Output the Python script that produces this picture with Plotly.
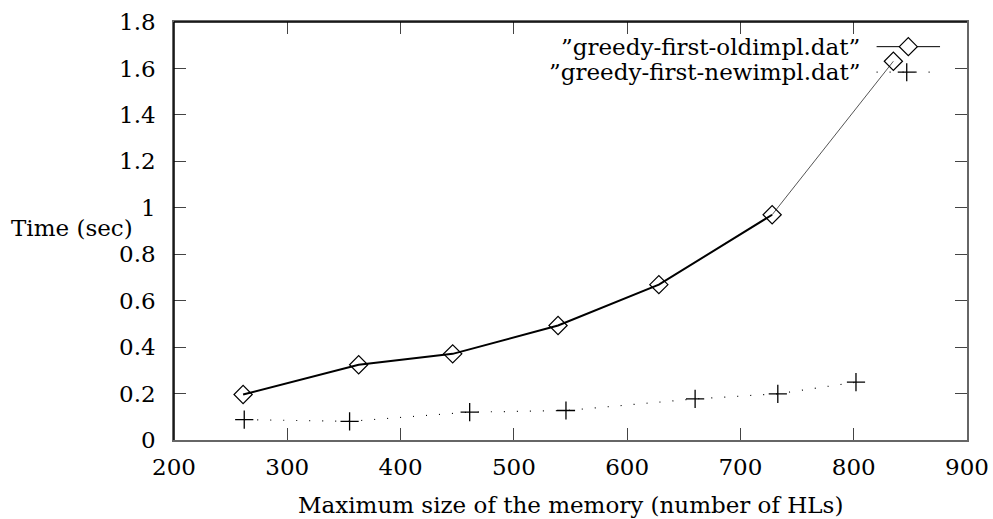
import plotly.graph_objects as go

# Data
x_old = [261, 363, 446, 539, 628, 728, 835]
y_old = [0.196, 0.324, 0.371, 0.493, 0.669, 0.970, 1.631]
x_new = [262, 355, 461, 546, 660, 733, 802]
y_new = [0.088, 0.080, 0.120, 0.127, 0.177, 0.199, 0.249]
name_old = "\u201dgreedy-first-oldimpl.dat\u201d"
name_new = "\u201dgreedy-first-newimpl.dat\u201d"
x_ticks = [200, 300, 400, 500, 600, 700, 800, 900]
y_ticks = [0, 0.2, 0.4, 0.6, 0.8, 1, 1.2, 1.4, 1.6, 1.8]
x_title = "Maximum size of the memory (number of HLs)"
y_title = "Time (sec)"

FONT = "DejaVu Serif"
FS = 23
TXT = dict(family=FONT, size=FS, color="black")

fig = go.Figure()
# old impl: thick line for the first segments, thin gray for the last one
fig.add_trace(go.Scatter(x=x_old[:6], y=y_old[:6], mode="lines",
                         line=dict(color="black", width=2), showlegend=False))
fig.add_trace(go.Scatter(x=x_old[5:], y=y_old[5:], mode="lines",
                         line=dict(color="#555555", width=1), showlegend=False))
fig.add_trace(go.Scatter(x=x_old, y=y_old, mode="markers",
                         marker=dict(symbol="diamond-open", size=14, color="black",
                                     line=dict(color="black", width=1.2)),
                         showlegend=False))
# new impl: dotted line with plus markers
fig.add_trace(go.Scatter(x=x_new, y=y_new, mode="lines",
                         line=dict(color="black", width=1.2, dash="1px,12px"),
                         showlegend=False))
fig.add_trace(go.Scatter(x=x_new, y=y_new, mode="markers",
                         marker=dict(symbol="cross-thin-open", size=13, color="black",
                                     line=dict(color="black", width=1.3)),
                         showlegend=False))

axis_common = dict(showgrid=False, zeroline=False, ticks="inside", ticklen=12,
                   tickcolor="#444444", tickwidth=1, linecolor="#666666", linewidth=1.5,
                   mirror="ticks", showline=True, automargin=False, tickfont=TXT)

fig.update_xaxes(range=[200, 900], tickvals=x_ticks,
                 ticktext=[str(v) for v in x_ticks], ticklabelstandoff=6,
                 **axis_common)
fig.update_yaxes(range=[0, 1.8], tickvals=y_ticks,
                 ticktext=[("%g" % v) for v in y_ticks], ticklabelstandoff=12,
                 **axis_common)

shapes = [
    # black top and left frame lines
    dict(type="line", xref="paper", yref="paper", x0=0, x1=1, y0=1, y1=1,
         line=dict(color="black", width=1.5)),
    dict(type="line", xref="paper", yref="paper", x0=0, x1=0, y0=0, y1=1,
         line=dict(color="black", width=1.5)),
    # legend samples
    dict(type="line", xref="paper", yref="paper", x0=0.886, x1=0.966, y0=0.941, y1=0.941,
         line=dict(color="black", width=1)),
    dict(type="line", xref="paper", yref="paper", x0=0.886, x1=0.966, y0=0.880, y1=0.880,
         line=dict(color="black", width=1.2, dash="1px,12px")),
    dict(type="path", xref="paper", yref="paper", xsizemode="pixel", ysizemode="pixel",
         xanchor=0.926, yanchor=0.941, path="M -9 0 L 0 9 L 9 0 L 0 -9 Z",
         line=dict(color="black", width=1.2), fillcolor="white"),
    dict(type="path", xref="paper", yref="paper", xsizemode="pixel", ysizemode="pixel",
         xanchor=0.924, yanchor=0.880, path="M -9 0 L 9 0 M 0 -9 L 0 9",
         line=dict(color="black", width=1.3)),
]

annotations = [
    dict(text=name_old, xref="paper", yref="paper", x=0.867, y=0.941,
         xanchor="right", yanchor="middle", showarrow=False, font=TXT),
    dict(text=name_new, xref="paper", yref="paper", x=0.867, y=0.880,
         xanchor="right", yanchor="middle", showarrow=False, font=TXT),
    dict(text=y_title, xref="paper", yref="paper", x=-0.208, y=0.506,
         xanchor="left", yanchor="middle", showarrow=False, font=TXT),
    dict(text=x_title, xref="paper", yref="paper", x=0.5, y=-0.155,
         xanchor="center", yanchor="middle", showarrow=False, font=TXT),
]

fig.update_layout(width=993, height=519, plot_bgcolor="white", paper_bgcolor="white",
                  margin=dict(l=174, r=26, t=22, b=79, autoexpand=False),
                  font=TXT, shapes=shapes, annotations=annotations, showlegend=False)

fig.write_html("out.html", config={"displayModeBar": False},
               post_script="document.body.style.margin='0';")
